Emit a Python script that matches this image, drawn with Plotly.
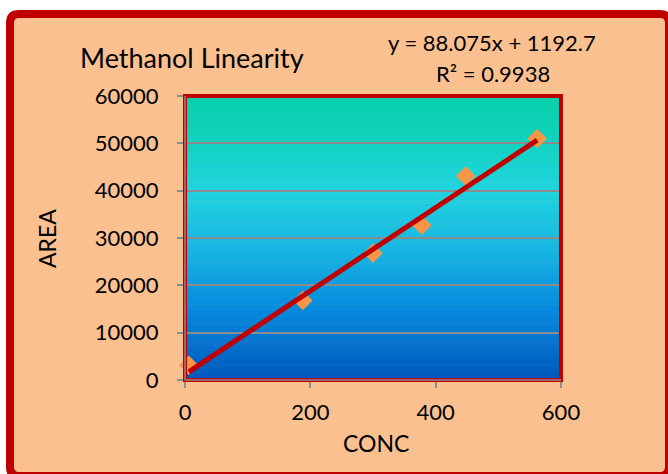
import plotly.graph_objects as go

# Calibration data: methanol concentration vs. detector peak area
conc = [6, 188, 300, 378, 448, 562]
area = [3100, 16800, 26800, 32700, 43100, 51000]

# Linear fit reported on the chart
slope = 88.075
intercept = 1192.7
r_squared = 0.9938

x_ticks = [0, 200, 400, 600]
y_ticks = [0, 10000, 20000, 30000, 40000, 50000, 60000]

W, H = 668, 474
M_L, M_R, M_T, M_B = 185, 107, 96, 94
PW, PH = W - M_L - M_R, H - M_T - M_B

FONT = "Lato"
RED = "#C00000"
GRID = "#8C8C8C"
PEACH = "#FAC090"


def px_x(px):
    """Horizontal pixel position -> paper coordinate."""
    return (px - M_L) / PW


def px_y(py):
    """Vertical pixel position (from top) -> paper coordinate."""
    return (H - M_B - py) / PH


def lerp_color(stops, t):
    for (t0, c0), (t1, c1) in zip(stops, stops[1:]):
        if t0 <= t <= t1:
            f = (t - t0) / (t1 - t0) if t1 > t0 else 0
            return "rgb({},{},{})".format(*[round(a + (b - a) * f) for a, b in zip(c0, c1)])
    return "rgb({},{},{})".format(*stops[-1][1])


# Rounded outer chart frame (peach fill, red stroke)
l, t_, r, b, rad = 10, 14, 669, 476, 9
frame_path = (
    f"M {px_x(l + rad)},{px_y(t_)} L {px_x(r - rad)},{px_y(t_)} "
    f"Q {px_x(r)},{px_y(t_)} {px_x(r)},{px_y(t_ + rad)} "
    f"L {px_x(r)},{px_y(b - rad)} Q {px_x(r)},{px_y(b)} {px_x(r - rad)},{px_y(b)} "
    f"L {px_x(l + rad)},{px_y(b)} Q {px_x(l)},{px_y(b)} {px_x(l)},{px_y(b - rad)} "
    f"L {px_x(l)},{px_y(t_ + rad)} Q {px_x(l)},{px_y(t_)} {px_x(l + rad)},{px_y(t_)} Z"
)

shapes = [dict(type="path", xref="paper", yref="paper", path=frame_path,
               fillcolor=PEACH, line=dict(color=RED, width=8), layer="below")]

# Vertical ocean-style gradient for the plotting area (0 = top, 1 = bottom)
grad_stops = [
    (0.00, (8, 208, 170)),
    (0.15, (16, 210, 190)),
    (0.33, (33, 212, 222)),
    (0.55, (24, 180, 226)),
    (0.75, (6, 138, 222)),
    (1.00, (0, 88, 188)),
]

n_bands = 90
for i in range(n_bands):
    t = (i + 0.5) / n_bands
    shapes.append(dict(
        type="rect", xref="paper", yref="paper",
        x0=0, x1=1, y0=1 - (i + 1) / n_bands - 0.002, y1=1 - i / n_bands,
        fillcolor=lerp_color(grad_stops, t), line=dict(width=0), layer="below",
    ))

# Red frame around the plotting area
shapes.append(dict(type="rect", xref="paper", yref="paper", x0=0, x1=1, y0=0, y1=1,
                   line=dict(color=RED, width=4), layer="above"))
# Grey axis lines over the left and bottom frame edges
shapes.append(dict(type="line", xref="paper", yref="paper", x0=0, x1=0, y0=0, y1=1,
                   line=dict(color=GRID, width=1.5), layer="above"))
shapes.append(dict(type="line", xref="paper", yref="paper", x0=0, x1=1, y0=0, y1=0,
                   line=dict(color=GRID, width=1.5), layer="above"))

fig = go.Figure()

fig.add_trace(go.Scatter(
    x=conc, y=area, mode="markers",
    marker=dict(symbol="diamond", size=15, color="#F79646", line=dict(width=0)),
    showlegend=False, cliponaxis=False,
))

x_fit = [min(conc), max(conc)]
y_fit = [slope * v + intercept for v in x_fit]
fig.add_trace(go.Scatter(
    x=x_fit, y=y_fit, mode="lines",
    line=dict(color=RED, width=5),
    showlegend=False,
))

text_font = dict(family=FONT, size=22, color="#000000")
annotations = [
    dict(text="Methanol Linearity", x=px_x(192), y=px_y(57), font=dict(text_font, size=27)),
    dict(text=f"y = {slope}x + {intercept}", x=px_x(492), y=px_y(42)),
    dict(text=f"R² = {r_squared}", x=px_x(493), y=px_y(73)),
    dict(text="CONC", x=px_x(376), y=px_y(443), font=dict(text_font, size=23)),
    dict(text="AREA", x=px_x(47), y=px_y(239), textangle=-90, font=dict(text_font, size=23)),
]
for a in annotations:
    a.setdefault("font", text_font)
    a.update(xref="paper", yref="paper", showarrow=False,
             xanchor="center", yanchor="middle")

fig.update_layout(
    width=W, height=H,
    margin=dict(l=M_L, r=M_R, t=M_T, b=M_B, pad=0),
    paper_bgcolor="#FFFFFF",
    plot_bgcolor="#0AA0E0",
    font=text_font,
    shapes=shapes,
    annotations=annotations,
    xaxis=dict(
        range=[0, 600], tickvals=x_ticks, ticks="outside", ticklen=7,
        tickwidth=1.5, tickcolor=GRID, showgrid=False, zeroline=False,
        showline=False, ticklabelstandoff=6, tickfont=text_font, fixedrange=True,
    ),
    yaxis=dict(
        range=[0, 60000], tickvals=y_ticks, ticks="outside", ticklen=7,
        tickwidth=1.5, tickcolor=GRID, showgrid=True, gridcolor=GRID,
        gridwidth=1.5, zeroline=False, showline=False, ticklabelstandoff=14,
        tickfont=text_font, tickformat="d", fixedrange=True,
    ),
)

fig.write_html("out.html")
